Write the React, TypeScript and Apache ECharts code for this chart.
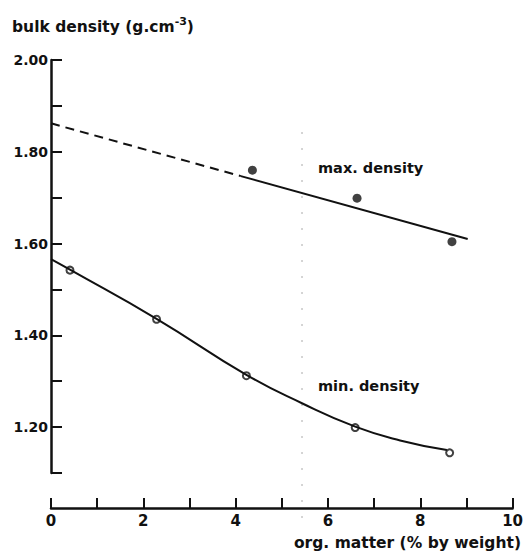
import React, { useEffect, useRef } from 'react';
import * as echarts from 'echarts';

// Observed points (org. matter %, bulk density g/cm3)
const maxDensityPoints: number[][] = [
  [4.35, 1.76],
  [6.61, 1.699],
  [8.66, 1.604],
];
const minDensityPoints: number[][] = [
  [0.41, 1.542],
  [2.28, 1.435],
  [4.22, 1.312],
  [6.57, 1.199],
  [8.61, 1.144],
];
// Fitted lines
const maxFitDashed: number[][] = [
  [0, 1.862],
  [4.1, 1.747],
];
const maxFitSolid: number[][] = [
  [4.1, 1.747],
  [9.0, 1.61],
];
const minFitCurve: number[][] = [
  [0, 1.566],
  [0.41, 1.543],
  [2.28, 1.436],
  [4.22, 1.314],
  [5.42, 1.252],
  [6.57, 1.201],
  [7.54, 1.171],
  [8.55, 1.15],
];

const yTitle = 'bulk density (g.cm{sup|-3})';
const xTitle = 'org. matter (% by weight)';
const maxLabel = 'max. density';
const minLabel = 'min. density';

const FONT = '"DejaVu Sans", Verdana, sans-serif';

export default function App() {
  const ref = useRef<HTMLDivElement>(null);
  useEffect(() => {
    if (!ref.current) return;
    const chart = echarts.init(ref.current, undefined, { renderer: 'svg' });
    const black = '#111';
    chart.setOption({
      animation: false,
      backgroundColor: '#fff',
      textStyle: { fontFamily: FONT },
      grid: [
        { left: 51, right: 12, top: 60, height: 413 },
        { left: 51, right: 12, top: 507, height: 1 },
      ],
      xAxis: [
        { gridIndex: 0, type: 'value', min: 0, max: 10, show: false },
        {
          gridIndex: 1,
          type: 'value',
          min: 0,
          max: 10,
          interval: 1,
          position: 'bottom',
          axisLine: { show: true, lineStyle: { color: black, width: 2.5 } },
          axisTick: { show: true, inside: true, length: 10, lineStyle: { color: black, width: 2 } },
          splitLine: { show: false },
          axisLabel: {
            color: black,
            fontSize: 15,
            fontWeight: 'bold',
            fontFamily: FONT,
            margin: 5,
            formatter: (v: number) => (Math.round(v) % 2 === 0 ? String(v) : ''),
          },
        },
      ],
      yAxis: [
        {
          gridIndex: 0,
          type: 'value',
          min: 1.1,
          max: 2.0,
          interval: 0.1,
          axisLine: { show: true, lineStyle: { color: black, width: 2.5 } },
          axisTick: { show: true, inside: true, length: 11, lineStyle: { color: black, width: 2 } },
          splitLine: { show: false },
          axisLabel: {
            color: black,
            fontSize: 14,
            fontWeight: 'bold',
            fontFamily: FONT,
            margin: 3,
            formatter: (v: number) => {
              const k = Math.round(v * 10);
              return k % 2 === 0 ? v.toFixed(2) : '';
            },
          },
        },
        { gridIndex: 1, type: 'value', show: false, min: 0, max: 1 },
      ],
      series: [
        {
          type: 'line',
          xAxisIndex: 0,
          yAxisIndex: 0,
          data: maxFitDashed,
          symbol: 'none',
          lineStyle: { color: black, width: 2, type: [9, 6] },
        },
        {
          type: 'line',
          xAxisIndex: 0,
          yAxisIndex: 0,
          data: maxFitSolid,
          symbol: 'none',
          lineStyle: { color: black, width: 2 },
        },
        {
          type: 'line',
          xAxisIndex: 0,
          yAxisIndex: 0,
          data: minFitCurve,
          symbol: 'none',
          smooth: 0.5,
          lineStyle: { color: black, width: 2 },
        },
        {
          type: 'scatter',
          xAxisIndex: 0,
          yAxisIndex: 0,
          data: maxDensityPoints,
          symbol: 'circle',
          symbolSize: 9,
          itemStyle: { color: black },
        },
        {
          type: 'scatter',
          xAxisIndex: 0,
          yAxisIndex: 0,
          data: minDensityPoints,
          symbol: 'circle',
          symbolSize: 7,
          itemStyle: { color: '#fff', borderColor: black, borderWidth: 2 },
        },
      ],
      graphic: [
        {
          type: 'text',
          left: 12,
          top: 16,
          style: {
            text: yTitle,
            fill: black,
            font: `bold 15.5px ${FONT}`,
            rich: {
              sup: { fontSize: 11, fontWeight: 'bold', fontFamily: FONT, fill: black, padding: [0, 0, 10, 0] } as any,
            },
          },
        },
        {
          type: 'text',
          x: 521,
          y: 543,
          style: {
            text: xTitle,
            fill: black,
            font: `bold 15.5px ${FONT}`,
            textAlign: 'right',
            textVerticalAlign: 'middle',
          },
        },
        {
          type: 'text',
          x: 318,
          y: 168,
          style: {
            text: maxLabel,
            fill: black,
            font: `bold 14.5px ${FONT}`,
            textAlign: 'left',
            textVerticalAlign: 'middle',
          },
        },
        {
          type: 'text',
          x: 318,
          y: 386,
          style: {
            text: minLabel,
            fill: black,
            font: `bold 14.5px ${FONT}`,
            textAlign: 'left',
            textVerticalAlign: 'middle',
          },
        },
        {
          type: 'line',
          shape: { x1: 302, y1: 132, x2: 302, y2: 520 },
          style: { stroke: '#aaa', lineWidth: 1, lineDash: [2, 14] },
        },
      ],
    });
    return () => chart.dispose();
  }, []);
  return (
    <div
      ref={ref}
      style={{ position: 'absolute', left: 0, top: 0, width: 526, height: 551, background: '#fff' }}
    />
  );
}
